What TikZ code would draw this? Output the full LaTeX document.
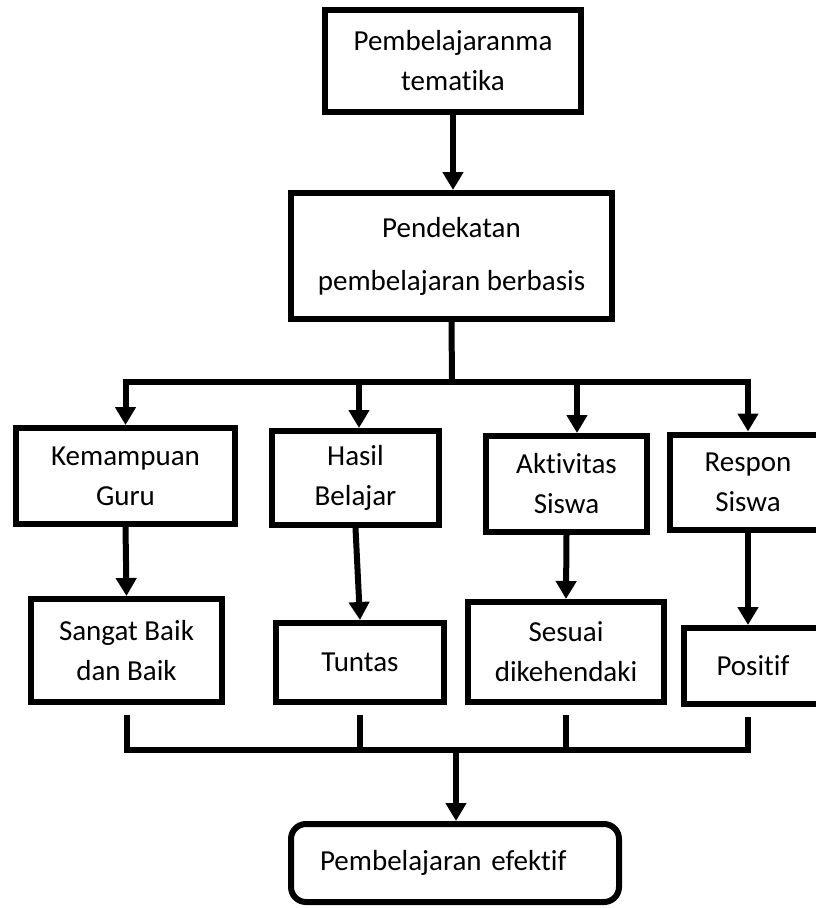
\documentclass[tikz,border=0pt]{standalone}
\usepackage{fontspec}
\setmainfont{Carlito}[Ligatures=NoCommon]
\usepackage{tikz}
\usetikzlibrary{arrows.meta}

\begin{document}
\begin{tikzpicture}[x=1pt, y=-1pt, >={Triangle[width=20pt,length=18pt]},
    font=\fontsize{29}{40}\selectfont,
    kotak/.style={draw, line width=6pt, align=center, inner sep=0pt},
    arr/.style={->, line width=6pt},
    conn/.style={line width=6pt}]
  \useasboundingbox (0,0) rectangle (816,908);

  % Kotak atas
  \node[kotak, minimum width=256pt, minimum height=102pt] (top) at (453,61) {Pembelajaranma\\tematika};
  \node[kotak, minimum width=321pt, minimum height=126pt] (pend) at (451.5,256) {Pendekatan\\[13pt]pembelajaran berbasis};

  % Empat aspek
  \node[kotak, minimum width=219pt, minimum height=96pt] (kem) at (125.5,476) {Kemampuan\\Guru};
  \node[kotak, minimum width=167pt, minimum height=94pt] (has) at (355.5,478) {Hasil\\Belajar};
  \node[kotak, minimum width=161pt, minimum height=96pt] (akt) at (566.5,484) {Aktivitas\\Siswa};
  \node[kotak, minimum width=156pt, minimum height=95pt] (res) at (748,482) {Respon\\Siswa};

  % Hasil tiap aspek
  \node[kotak, minimum width=191pt, minimum height=103pt] (san) at (126.5,650.5) {Sangat Baik\\dan Baik};
  \node[kotak, minimum width=168pt, minimum height=79pt] (tun) at (360,662.5) {Tuntas};
  \node[kotak, minimum width=196pt, minimum height=100pt] (ses) at (566,652) {Sesuai\\dikehendaki};
  \node[kotak, minimum width=138pt, minimum height=76pt] (pos) at (753,666) {Positif};

  % Kesimpulan
  \node[kotak, rounded corners=15pt, text width=270pt, inner xsep=29pt, align=left, minimum height=78pt] (efk) at (455,863) {Pembelajaran efektif};

  % Garis penghubung
  \coordinate (split) at (452,382);
  \coordinate (tapH) at (359,382);
  \coordinate (tapA) at (577,382);
  \coordinate (join) at (456,750);
  \coordinate (posB) at (res.south |- pos.south);

  \draw[arr] (top.south) -- (top.south |- pend.north);
  \draw[conn] (pend.south) -- (split);
  \draw[arr] (split) -| (kem.north);
  \draw[arr] (split) -| (res.north);
  \draw[arr] (tapH) -- (tapH |- has.north);
  \draw[arr] (tapA) -- (tapA |- akt.north);

  \draw[arr] (kem.south) -- (san.north);
  \draw[arr] (has.south) -- (tun.north);
  \draw[arr] (akt.south) -- (ses.north);
  \draw[arr] (res.south) -- (res.south |- pos.north);

  \draw[conn] ([yshift=-10pt]san.south) |- (join) -| ([yshift=-10pt]posB);
  \draw[conn] ([yshift=-10pt]tun.south) -- (tun.south |- join);
  \draw[conn] ([yshift=-10pt]ses.south) -- (ses.south |- join);
  \draw[arr] (join) -- (join |- efk.north);
\end{tikzpicture}
\end{document}
